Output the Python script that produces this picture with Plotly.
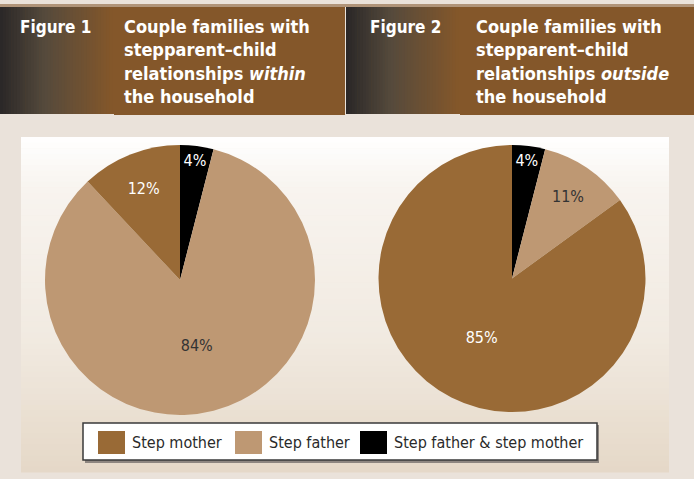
import plotly.graph_objects as go

W, H = 694, 479

categories = ["Step mother", "Step father", "Step father & step mother"]
within_values = [12, 84, 4]
outside_values = [85, 11, 4]
fig_labels = ["Figure 1", "Figure 2"]
fig_titles = [
    "Couple families with<br>stepparent\u2013child<br>relationships <i>within</i><br>the household",
    "Couple families with<br>stepparent\u2013child<br>relationships <i>outside</i><br>the household",
]

colors = ["#996A36", "#BE9873", "#000000"]
FONT = "DejaVu Sans Condensed, Liberation Sans Narrow, sans-serif"


def px(x):
    return x / W


def py(y):
    return 1 - y / H


def hexrgb(h):
    h = h.lstrip("#")
    return tuple(int(h[i:i + 2], 16) for i in (0, 2, 4))


def lerp_stops(stops, t):
    for (t0, c0), (t1, c1) in zip(stops, stops[1:]):
        if t0 <= t <= t1:
            f = 0 if t1 == t0 else (t - t0) / (t1 - t0)
            a, b = hexrgb(c0), hexrgb(c1)
            return "rgb(%d,%d,%d)" % tuple(round(a[i] + (b[i] - a[i]) * f) for i in range(3))
    return stops[-1][1]


shapes = []


def rect(x0, y0, x1, y1, color, line=None):
    shapes.append(dict(type="rect", xref="paper", yref="paper",
                       x0=px(x0), x1=px(x1), y0=py(y1), y1=py(y0),
                       fillcolor=color, line=line or dict(width=0), layer="below"))


# top strip
rect(0, 4, W, 7, "#B09479")

# headers with horizontal gradient at left
header_stops = [(0, "#2A2727"), (0.4, "#554A3C"), (1.0, "#84572A")]
for hx0, hx1 in [(0, 345), (346, W)]:
    rect(hx0, 7, hx1, 114, "#84572A")
    n = 40
    gw = 112
    for i in range(n):
        x0 = hx0 + gw * i / n
        x1 = hx0 + gw * (i + 1) / n + 0.6
        rect(x0, 7, x1, 114, lerp_stops(header_stops, (i + 0.5) / n))
    rect(hx0 + 114, 112, hx1, 115, "#84572A")

# chart panel vertical gradient
panel_stops = [(0, "#FFFFFF"), (0.15, "#F8F4EF"), (0.6, "#F1EAE1"), (1.0, "#E5D8C7")]
n = 60
for i in range(n):
    y0 = 137 + (472 - 137) * i / n
    y1 = 137 + (472 - 137) * (i + 1) / n + 0.6
    rect(21, y0, 669, y1, lerp_stops(panel_stops, (i + 0.5) / n))

# legend box with shadow
rect(85, 425, 599, 463, "#8E8680")
rect(83, 423, 597, 460, "#FFFFFF", line=dict(color="#3A3A3A", width=1.5))

annotations = []
# header texts
for i, (hx, tx) in enumerate([(18, 122), (368, 474)]):
    annotations.append(dict(text="<b>%s</b>" % fig_labels[i], x=px(hx), y=py(15),
                            xref="paper", yref="paper", xanchor="left", yanchor="top",
                            showarrow=False, font=dict(family=FONT, size=17, color="#FFFFFF")))
    annotations.append(dict(text="<b>%s</b>" % fig_titles[i], x=px(tx), y=py(14),
                            xref="paper", yref="paper", xanchor="left", yanchor="top",
                            align="left", showarrow=False,
                            font=dict(family=FONT, size=18, color="#FFFFFF")))

# legend items
sw_x = [98, 235, 360]
for i, cat in enumerate(categories):
    rect(sw_x[i], 431, sw_x[i] + 27, 454, colors[i])
    annotations.append(dict(text=cat, x=px(sw_x[i] + 32), y=py(442), xref="paper", yref="paper",
                            xanchor="left", yanchor="middle", showarrow=False,
                            font=dict(family=FONT, size=16, color="#2A2A2A")))

fig = go.Figure()
pie_boxes = [(45, 145, 315, 415), (378, 145, 646, 412)]
# pie slices are drawn clockwise from 12 o'clock in reverse category order
slice_text_colors = ["#FFFFFF", "#333333", "#FFFFFF"]  # black, step father, step mother
for k, vals in enumerate([within_values, outside_values]):
    x0, y0, x1, y1 = pie_boxes[k]
    fig.add_trace(go.Pie(
        labels=categories[::-1], values=vals[::-1], sort=False, direction="clockwise", rotation=0,
        marker=dict(colors=colors[::-1], line=dict(width=0)),
        texttemplate="%{value}%", textposition="inside", insidetextorientation="horizontal",
        textfont=dict(family=FONT, size=16, color=slice_text_colors),
        hoverinfo="label+value", showlegend=False,
        domain=dict(x=[px(x0), px(x1)], y=[py(y1), py(y0)]),
    ))

fig.update_layout(
    width=W, height=H, margin=dict(l=0, r=0, t=0, b=0),
    paper_bgcolor="#EAE2DA", plot_bgcolor="rgba(0,0,0,0)",
    shapes=shapes, annotations=annotations, showlegend=False,
    font=dict(family=FONT),
)

fig.write_html("out.html")
